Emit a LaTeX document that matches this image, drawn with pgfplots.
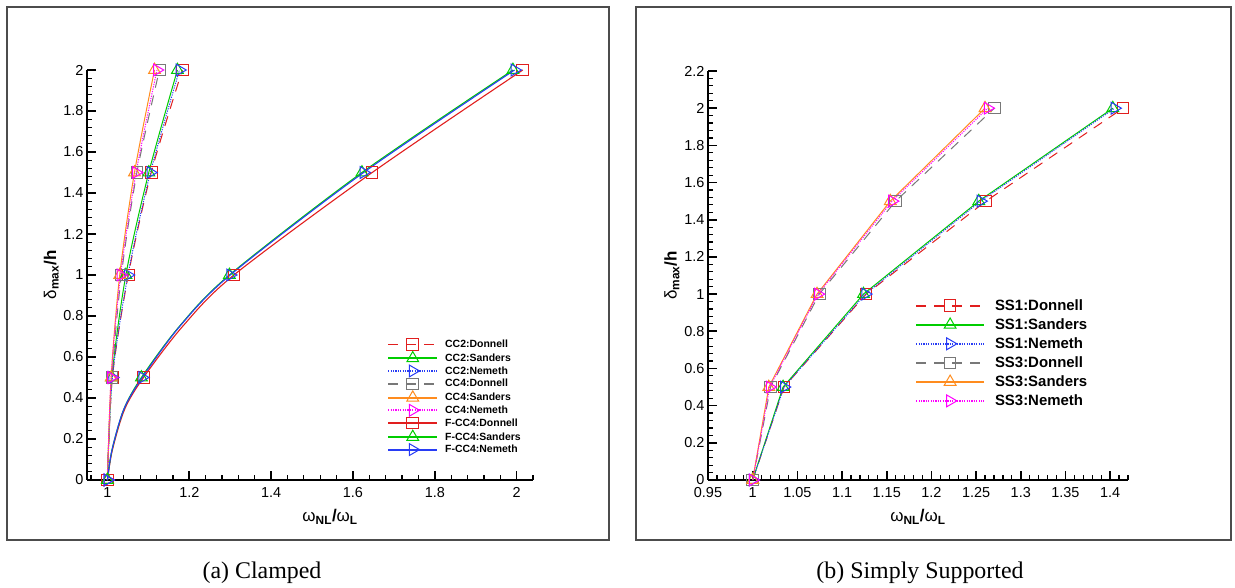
\documentclass[border=0pt]{standalone}
\usepackage{fontspec}
\setmainfont{Liberation Sans}
\newfontfamily\capfont{Liberation Serif}
\usepackage{pgfplots}
\pgfplotsset{compat=1.18}
\definecolor{cred}{RGB}{225,30,30}
\definecolor{cgreen}{RGB}{0,205,0}
\definecolor{cblue}{RGB}{40,60,245}
\definecolor{cgray}{RGB}{120,120,120}
\definecolor{corange}{RGB}{255,140,30}
\definecolor{cmag}{RGB}{255,0,255}
\pgfplotsset{
  tecaxis/.style={
    scale only axis, anchor=south west, clip=false,
    axis x line=bottom, axis y line=left,
    axis line style={-, line width=2bp, black},
    tick align=inside,
    major tick length=9bp, minor tick length=5bp,
    major tick style={line width=1.7bp, black},
    minor tick style={line width=1.2bp, black},
    tick label style={font=\fontsize{14.5}{17}\selectfont},
    /pgf/number format/assume math mode=true,
    xticklabel style={yshift=-4bp},
    label style={font=\fontsize{17}{20}\selectfont},
    legend cell align=left,
  },
  dn/.style={dash pattern=on 10bp off 8bp, line width=1bp, mark=square, mark size=5.8bp, mark options={solid, line width=1bp}},
  sa/.style={solid, line width=1bp, mark=triangle, mark size=6.8bp, mark options={solid, line width=1bp}},
  ne/.style={dash pattern=on 1.2bp off 1.2bp, line width=1bp, mark=triangle, mark size=6.8bp, mark options={solid, rotate=-90, line width=1bp}},
  fs/.style={solid, line width=1.1bp},
}
\begin{document}
\begin{tikzpicture}
\useasboundingbox (0,0) rectangle (1235bp,588bp);
\draw[line width=1.5bp, black!70] (7bp,48bp) rectangle (609bp,581bp);
\draw[line width=1.5bp, black!70] (636bp,48bp) rectangle (1231bp,581bp);
\node[font=\capfont\fontsize{24}{28}\selectfont] at (262bp,15bp) {(a) Clamped};
\node[font=\capfont\fontsize{24}{28}\selectfont] at (920bp,15bp) {(b) Simply Supported};
% ---------------- (a) Clamped
\begin{axis}[tecaxis, at={(87bp,108bp)}, width=446bp, height=410bp,
  xmin=0.95, xmax=2.04, ymin=0, ymax=2,
  xtick={1,1.2,1.4,1.6,1.8,2},
  minor xtick={0.96,1.04,1.08,1.12,1.16,1.24,1.28,1.32,1.36,1.44,1.48,1.52,1.56,1.64,1.68,1.72,1.76,1.84,1.88,1.92,1.96,2.04},
  ytick={0,0.2,0.4,0.6,0.8,1,1.2,1.4,1.6,1.8,2},
  minor y tick num=4,
  xlabel={ω\textsubscript{\textbf{NL}}\textbf{/}ω\textsubscript{\textbf{L}}},
  ylabel={δ\textsubscript{\textbf{max}}\textbf{/h}},
  xlabel style={at={(axis description cs:0.545,-0.09)}, anchor=center},
  ylabel style={at={(axis description cs:-0.08,0.5)}, anchor=center},
  legend image code/.code={\draw[line width=1.8bp] (0bp,0bp)--(49bp,0bp); \draw plot coordinates {(24.5bp,0bp)};},
  legend style={draw=none, fill=none, inner sep=0pt, at={(0.673,0.345)}, anchor=north west,
    font=\fontsize{10.5}{12}\selectfont\bfseries, row sep=1.2bp, nodes={inner sep=1bp},
    /tikz/every odd column/.append style={column sep=6bp}},
]
\addplot[dn, smooth, color=cred] coordinates {(1,0)(1.012,0.5)(1.051,1)(1.107,1.5)(1.183,2)};
\addlegendentry{CC2:Donnell}
\addplot[sa, smooth, color=cgreen] coordinates {(1,0)(1.011,0.5)(1.045,1)(1.101,1.5)(1.171,2)};
\addlegendentry{CC2:Sanders}
\addplot[ne, smooth, color=cblue] coordinates {(1,0)(1.012,0.5)(1.050,1)(1.105,1.5)(1.176,2)};
\addlegendentry{CC2:Nemeth}
\addplot[dn, smooth, color=cgray] coordinates {(1,0)(1.011,0.5)(1.034,1)(1.072,1.5)(1.127,2)};
\addlegendentry{CC4:Donnell}
\addplot[sa, smooth, color=corange] coordinates {(1,0)(1.009,0.5)(1.030,1)(1.066,1.5)(1.115,2)};
\addlegendentry{CC4:Sanders}
\addplot[ne, smooth, color=cmag] coordinates {(1,0)(1.009,0.5)(1.032,1)(1.070,1.5)(1.121,2)};
\addlegendentry{CC4:Nemeth}
\addplot[dn, fs, smooth, color=cred, mark indices={1,4,6,7,8}] coordinates {(1,0)(1.012,0.146)(1.042,0.345)(1.088,0.5)(1.184,0.75)(1.309,1)(1.647,1.5)(2.015,2)};
\addlegendentry{F-CC4:Donnell}
\addplot[sa, fs, smooth, color=cgreen, mark indices={1,4,6,7,8}] coordinates {(1,0)(1.011,0.146)(1.040,0.345)(1.083,0.5)(1.176,0.75)(1.298,1)(1.622,1.5)(1.991,2)};
\addlegendentry{F-CC4:Sanders}
\addplot[ne, fs, smooth, color=cblue, mark indices={1,4,6,7,8}] coordinates {(1,0)(1.011,0.146)(1.040,0.345)(1.085,0.5)(1.177,0.75)(1.300,1)(1.626,1.5)(1.995,2)};
\addlegendentry{F-CC4:Nemeth}
\end{axis}
% ---------------- (b) Simply supported
\begin{axis}[tecaxis, at={(708bp,108bp)}, width=420bp, height=409bp,
  xmin=0.95, xmax=1.42, ymin=0, ymax=2.2,
  xtick={0.95,1,1.05,1.1,1.15,1.2,1.25,1.3,1.35,1.4},
  minor x tick num=4,
  extra x ticks={1.41,1.42}, extra x tick labels={},
  extra x tick style={major tick length=5bp, tick style={line width=1.2bp}},
  ytick={0,0.2,0.4,0.6,0.8,1,1.2,1.4,1.6,1.8,2,2.2},
  minor y tick num=4,
  xticklabel style={/pgf/number format/.cd, fixed, precision=2},
  xlabel={ω\textsubscript{\textbf{NL}}\textbf{/}ω\textsubscript{\textbf{L}}},
  ylabel={δ\textsubscript{\textbf{max}}\textbf{/h}},
  xlabel style={at={(axis description cs:0.5,-0.09)}, anchor=center},
  ylabel style={at={(axis description cs:-0.086,0.5)}, anchor=center},
  legend image code/.code={\draw[line width=1.8bp] (0bp,0bp)--(68bp,0bp); \draw plot coordinates {(34bp,0bp)};},
  legend style={draw=none, fill=none, inner sep=0pt, at={(0.4929,0.444)}, anchor=north west,
    font=\fontsize{15}{17}\selectfont\bfseries, row sep=4.7bp, nodes={inner sep=1bp},
    /tikz/every odd column/.append style={column sep=9bp}},
]
\addplot[dn, color=cred] coordinates {(1,0)(1.035,0.5)(1.127,1)(1.261,1.5)(1.4145,2)};
\addlegendentry{SS1:Donnell}
\addplot[sa, color=cgreen] coordinates {(1,0)(1.034,0.5)(1.124,1)(1.253,1.5)(1.403,2)};
\addlegendentry{SS1:Sanders}
\addplot[ne, color=cblue] coordinates {(1,0)(1.035,0.5)(1.126,1)(1.255,1.5)(1.405,2)};
\addlegendentry{SS1:Nemeth}
\addplot[dn, color=cgray] coordinates {(1,0)(1.020,0.5)(1.0745,1)(1.160,1.5)(1.2705,2)};
\addlegendentry{SS3:Donnell}
\addplot[sa, color=corange] coordinates {(1,0)(1.018,0.5)(1.072,1)(1.154,1.5)(1.260,2)};
\addlegendentry{SS3:Sanders}
\addplot[ne, color=cmag] coordinates {(1,0)(1.019,0.5)(1.073,1)(1.156,1.5)(1.263,2)};
\addlegendentry{SS3:Nemeth}
\end{axis}
\end{tikzpicture}
\end{document}
